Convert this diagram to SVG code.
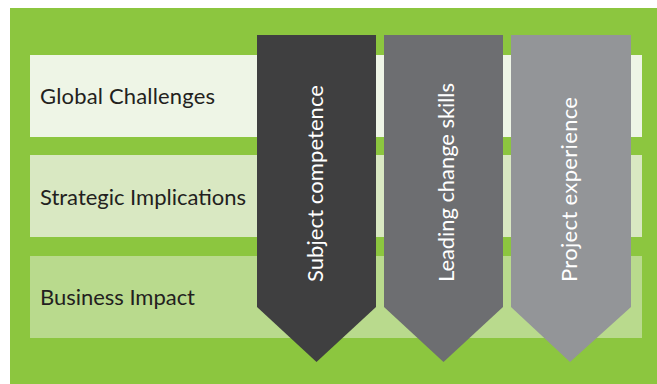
<svg xmlns="http://www.w3.org/2000/svg" width="657" height="384" viewBox="0 0 657 384">
<style>
.row{font-family:Lato,"Open Sans",sans-serif;font-size:22px;fill:#231f20}
.lbl{font-family:Lato,"Open Sans",sans-serif;font-size:22px;fill:#ffffff}
</style>
<rect x="0" y="0" width="657" height="384" fill="#ffffff"/>
<rect id="background" x="10" y="8" width="647" height="376" fill="#8cc63f"/>
<g id="row-global">
<rect x="30" y="55" width="612" height="82" fill="#eef5e6"/>
<text class="row" x="40" y="104" textLength="175">Global Challenges</text>
</g>
<g id="row-strategic">
<rect x="30" y="155" width="612" height="82" fill="#d9e8c2"/>
<text class="row" x="40" y="205" textLength="206">Strategic Implications</text>
</g>
<g id="row-business">
<rect x="30" y="256" width="612" height="82" fill="#b9da8d"/>
<text class="row" x="40" y="305" textLength="155">Business Impact</text>
</g>
<g id="arrow-subject">
<polygon points="257,35 376,35 376,307 316.5,362 257,307" fill="#3f3f40"/>
<text class="lbl" transform="translate(323,282) rotate(-90)" textLength="197">Subject competence</text>
</g>
<g id="arrow-leading">
<polygon points="384,35 503,35 503,307 443.5,362 384,307" fill="#6d6e71"/>
<text class="lbl" transform="translate(454,282) rotate(-90)" textLength="199">Leading change skills</text>
</g>
<g id="arrow-project">
<polygon points="511,35 631,35 631,307 570,362 511,307" fill="#939598"/>
<text class="lbl" transform="translate(577,282) rotate(-90)" textLength="185">Project experience</text>
</g>
<g id="connectors"></g>
</svg>
